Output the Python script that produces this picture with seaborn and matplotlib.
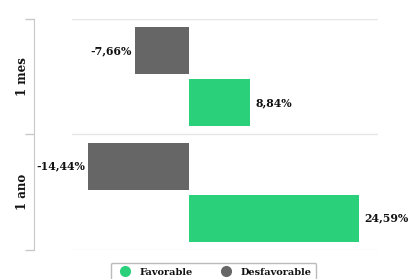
import numpy as np
import pandas as pd
import matplotlib
matplotlib.use("Agg")
import matplotlib.pyplot as plt
import seaborn as sns
from matplotlib.lines import Line2D

# chart data
periods = ["1 mes", "1 ano"]
favorable = [8.84, 24.59]
desfavorable = [-7.66, -14.44]
series = ["Desfavorable", "Favorable"]
colors = {"Favorable": "#2bd07b", "Desfavorable": "#666666"}

df = pd.DataFrame({
    "periodo": periods * 2,
    "valor": desfavorable + favorable,
    "serie": ["Desfavorable"] * 2 + ["Favorable"] * 2,
})

sns.set_style("white")
plt.rcParams["font.family"] = ["DejaVu Serif"]

fig = plt.figure(figsize=(4.09, 2.79), dpi=100)
ax = fig.add_axes([0.176, 0.104, 0.748, 0.828])

sns.barplot(data=df, y="periodo", x="valor", hue="serie", order=periods,
            hue_order=series, palette=colors, orient="h", width=0.9, gap=0.1,
            saturation=1, legend=False, ax=ax, linewidth=0)

ax.set_xlim(-16.8, 27.3)
ax.set_ylim(1.5, -0.5)

# category separators
for yy in [-0.5, 0.5, 1.5]:
    ax.axhline(yy, color="#e6e6e6", lw=1, zorder=0)

# value labels
for cont in ax.containers:
    for bar in cont:
        w = bar.get_width()
        yc = bar.get_y() + bar.get_height() / 2
        txt = f"{w:.2f}".replace(".", ",") + "%"
        if w < 0:
            ax.text(w - 0.5, yc, txt, ha="right", va="center",
                    fontsize=7.8, fontweight="bold", color="#111111", clip_on=False)
        else:
            ax.text(w + 0.8, yc, txt, ha="left", va="center",
                    fontsize=7.8, fontweight="bold", color="#111111", clip_on=False)

# axes styling
for s in ["top", "right", "bottom"]:
    ax.spines[s].set_visible(False)
ax.spines["left"].set_position(("outward", 27))
ax.spines["left"].set_color("#c8c8c8")
ax.set_xticks([])
ax.set_xlabel("")
ax.set_ylabel("")
ax.set_yticks([-0.5, 0.5, 1.5])
ax.set_yticklabels([])
ax.tick_params(axis="y", which="major", left=True, length=6.5,
               color="#c8c8c8", width=1)
ax.set_yticks([0, 1], minor=True)
ax.set_yticklabels(periods, minor=True, rotation=90, va="center",
                   fontsize=8.5, fontweight="bold", color="#111111")
ax.tick_params(axis="y", which="minor", left=False, length=0, pad=4)

handles = [Line2D([0], [0], marker="o", color="none", markerfacecolor=colors[s],
                  markeredgecolor=colors[s], markersize=7, label=s)
           for s in ["Favorable", "Desfavorable"]]
leg = fig.legend(handles=handles, loc="upper center", bbox_to_anchor=(0.522, 0.075),
                 ncol=2, frameon=True, fancybox=True, edgecolor="#aaaaaa",
                 prop={"family": "DejaVu Serif", "weight": "bold", "size": 7},
                 handletextpad=0.5, columnspacing=2.4, borderpad=0.5)
leg.get_frame().set_linewidth(1)
for t in leg.get_texts():
    t.set_color("#111111")

fig.savefig("out.png", dpi=100)
